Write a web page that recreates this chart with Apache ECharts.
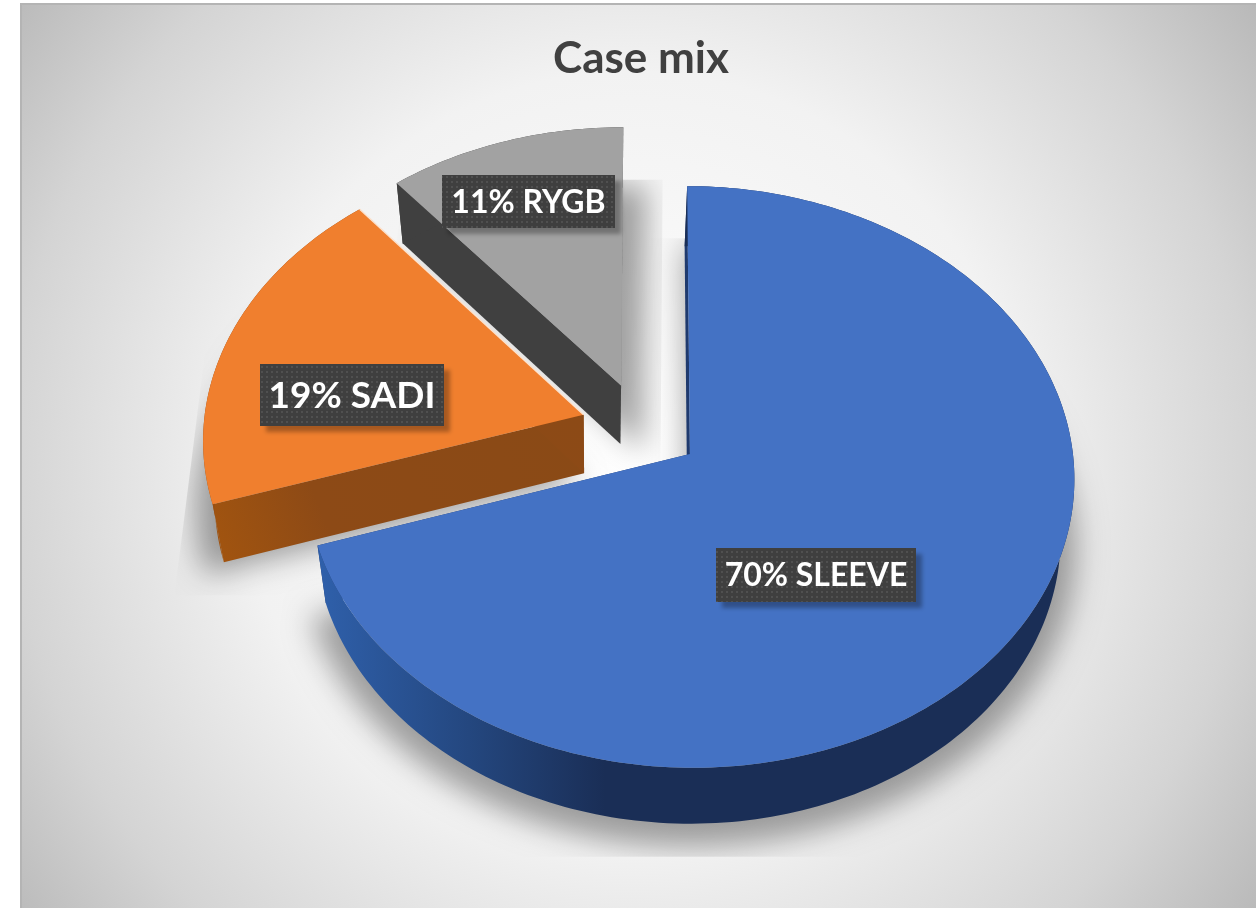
<!DOCTYPE html>
<html>
<head>
<meta charset="utf-8">
<style>html,body{margin:0;padding:0;background:#fff}#chart{width:1256px;height:908px}</style>
<script src="https://cdn.jsdelivr.net/npm/echarts@6/dist/echarts.min.js"></script>
</head>
<body>
<div id="chart"></div>
<script>
// Case mix: exploded pie with a perspective extrusion, drawn as custom series.
const categories = ['SLEEVE', 'SADI', 'RYGB'];
const shares = [70, 19, 11];
const topColors = ['#4472c4', '#f07f2e', '#a2a2a2'];
const edgeGlow = [null, '#fde3cf', null];
const shadowDrift = [0, 0, 26];

// Label plates: centre x, centre y, width, height, font size
const plates = [
  [816, 575, 200, 54, 32],
  [352, 395, 184, 62, 37],
  [528.5, 201.5, 173, 53, 32]
];

// Pie plane to screen projection
const view = { cx: 690, cy: 454, rx: 383, ry: 289, skew: -3, persp: 0.079 };
const wall = { height: 60, fall: 0.007, topY: 187, vanishX: 600, converge: 0.029 };
const explode = 0.158;
const pieOrigin = [-0.128, 0.093];

const total = shares.reduce((a, b) => a + b, 0);

function project(X, Y, lower) {
  const w = 1 + view.persp * Y;
  let x = view.cx + (view.rx * X + view.skew * Y) / w;
  let y = view.cy - view.ry * Y / w;
  if (lower) {
    x += (wall.vanishX - x) * wall.converge;
    y += wall.height - (y - wall.topY) * wall.fall;
  }
  return [x, y];
}

// Geometry of one slice, with angles clockwise from twelve o'clock
function sliceGeometry(index) {
  const before = shares.slice(0, index).reduce((a, b) => a + b, 0);
  const a0 = before / total * Math.PI * 2;
  const a1 = (before + shares[index]) / total * Math.PI * 2;
  const mid = (a0 + a1) / 2;
  const ox = pieOrigin[0] + explode * Math.sin(mid);
  const oy = pieOrigin[1] + explode * Math.cos(mid);
  const steps = Math.max(8, Math.round((a1 - a0) / 0.02));
  const rim = [];
  for (let i = 0; i <= steps; i++) {
    const t = a0 + (a1 - a0) * i / steps;
    rim.push([ox + Math.sin(t), oy + Math.cos(t)]);
  }
  return { apex: [ox, oy], rim };
}

function outline(geo, lower) {
  return [geo.apex].concat(geo.rim).map(p => project(p[0], p[1], lower));
}

function bounds(points) {
  const xs = points.map(p => p[0]);
  const ys = points.map(p => p[1]);
  return { x0: Math.min(...xs), x1: Math.max(...xs), y0: Math.min(...ys), y1: Math.max(...ys) };
}

const wallColors = [
  new echarts.graphic.LinearGradient(0, 0, 1, 0, [
    { offset: 0, color: '#2f60ab' },
    { offset: 0.2, color: '#24477f' },
    { offset: 0.38, color: '#1a2e56' },
    { offset: 1, color: '#1a2e56' }
  ]),
  new echarts.graphic.LinearGradient(0, 1, 1, 0, [
    { offset: 0, color: '#a3550f' },
    { offset: 0.3, color: '#8d4a16' },
    { offset: 1, color: '#8a4a16' }
  ]),
  '#404040'
];

// Dot texture for the label plates
function platePattern() {
  const c = document.createElement('canvas');
  c.width = 5; c.height = 5;
  const g = c.getContext('2d');
  g.fillStyle = '#3f3f3f';
  g.fillRect(0, 0, 5, 5);
  g.fillStyle = '#505050';
  g.fillRect(1, 1, 2, 2);
  return c;
}
const plateTexture = platePattern();

// Soft ground shadow: the blurred outline only, cut off at a skewed frame
function renderShadow(params) {
  const index = categories.length - 1 - params.dataIndex;
  const geo = sliceGeometry(index);
  const lower = outline(geo, true);
  const box = bounds(lower);
  const spread = 1.04;
  const shift = 3000;
  const pts = lower.map(p => [
    view.cx + (p[0] - view.cx) * spread - shift + shadowDrift[index],
    view.cy + (p[1] - view.cy) * spread + 8
  ]);
  const slope = 0.12;
  const top = box.y0 - 8;
  const h = box.y1 + 33 - top;
  const frame = [
    [box.x0 + 2, top],
    [box.x1 + 40, top],
    [box.x1 + 2 + h * slope, box.y1 + 33],
    [box.x0 - h * slope, box.y1 + 33]
  ];
  return {
    type: 'group',
    clipPath: { type: 'polygon', shape: { points: frame } },
    children: [{
      type: 'polygon',
      shape: { points: pts },
      style: {
        fill: '#000',
        shadowBlur: 30,
        shadowColor: 'rgba(0,0,0,0.36)',
        shadowOffsetX: shift,
        shadowOffsetY: 0
      }
    }]
  };
}

function renderSlice(params) {
  const index = categories.length - 1 - params.dataIndex;
  const geo = sliceGeometry(index);
  const top = outline(geo, false);
  const low = outline(geo, true);
  const fill = wallColors[index];
  const children = [];

  // Cut faces first, then the outer rim, then the lid
  const addWall = (a, b) => children.push({
    type: 'polygon',
    shape: { points: [top[a], top[b], low[b], low[a]] },
    style: { fill: index === 0 ? '#1f3a6e' : fill }
  });
  addWall(0, 1);
  addWall(0, top.length - 1);
  children.push({
    type: 'polygon',
    shape: { points: top.slice(1).concat(low.slice(1).reverse()) },
    style: { fill }
  });
  children.push({
    type: 'polygon',
    shape: { points: top },
    style: { fill: topColors[index] }
  });
  if (edgeGlow[index]) {
    children.push({
      type: 'polyline',
      shape: { points: [top[0], top[top.length - 1]] },
      style: { stroke: edgeGlow[index], lineWidth: 1.5, fill: 'none' }
    });
  }

  const [cx, cy, w, h, size] = plates[index];
  children.push({
    type: 'rect',
    shape: { x: cx - w / 2, y: cy - h / 2, width: w, height: h },
    style: {
      fill: { image: plateTexture, repeat: 'repeat' },
      shadowBlur: 4,
      shadowColor: 'rgba(0,0,0,0.3)',
      shadowOffsetX: 6,
      shadowOffsetY: 6
    }
  });
  children.push({
    type: 'text',
    style: {
      x: cx,
      y: cy + 1,
      text: shares[index] + '% ' + categories[index],
      fill: '#ffffff',
      font: 'bold ' + size + 'px Lato, "Open Sans", sans-serif',
      align: 'center',
      verticalAlign: 'middle'
    }
  });
  return { type: 'group', children };
}

const drawOrder = shares.map((v, i) => [v, i]).reverse();

const chart = echarts.init(document.getElementById('chart'), null, { renderer: 'canvas' });
chart.setOption({
  animation: false,
  backgroundColor: '#ffffff',
  title: {
    text: 'Case mix',
    left: 636,
    top: 32,
    textAlign: 'center',
    textStyle: {
      color: '#404040',
      fontFamily: 'Lato, "Open Sans", sans-serif',
      fontWeight: 'bold',
      fontSize: 44
    }
  },
  graphic: [{
    type: 'rect',
    z: -10,
    shape: { x: 21, y: 4, width: 1245, height: 914 },
    style: {
      fill: new echarts.graphic.RadialGradient(0.49, 0.5, 0.85, [
        { offset: 0, color: '#ffffff' },
        { offset: 0.5, color: '#f2f2f2' },
        { offset: 0.8, color: '#d4d4d4' },
        { offset: 1, color: '#b8b8b8' }
      ]),
      stroke: '#b4b4b4',
      lineWidth: 2
    }
  }],
  series: [
    {
      type: 'custom',
      name: 'shadow',
      coordinateSystem: 'none',
      silent: true,
      z: 1,
      data: drawOrder,
      renderItem: renderShadow
    },
    {
      type: 'custom',
      name: 'Case mix',
      coordinateSystem: 'none',
      silent: true,
      z: 2,
      data: drawOrder,
      renderItem: renderSlice
    }
  ]
});
</script>
</body>
</html>
